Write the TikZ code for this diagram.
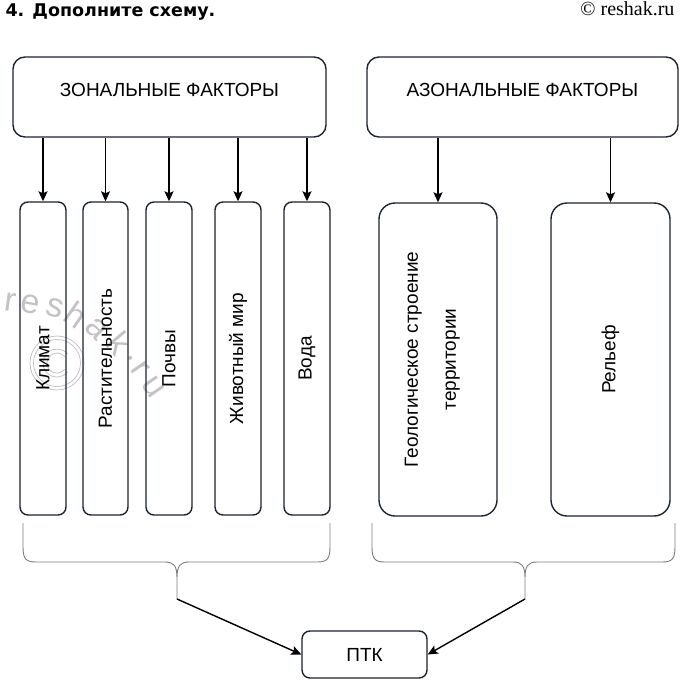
\documentclass[tikz,border=0pt]{standalone}
\usepackage{fontspec}
\setmainfont{Liberation Sans}
\newfontfamily\titlefont{DejaVu Sans}
\newfontfamily\copyfont{Liberation Serif}
\usepackage{tikz}
\usetikzlibrary{arrows.meta,positioning,calc}
\definecolor{boxline}{RGB}{28,36,44}
\definecolor{braceline}{RGB}{125,125,125}
\definecolor{wmgray}{RGB}{195,195,195}

\tikzset{
  factbox/.style={draw=boxline,line width=1.4pt,inner sep=0pt,rounded corners=12pt,
    minimum width=313pt,minimum height=80pt,text depth=14pt},
  tallbox/.style={draw=boxline,line width=1.4pt,inner sep=0pt,rounded corners=8pt,
    minimum height=313pt},
  flow/.style={->,line width=1.4pt,black}
}

\begin{document}
\begin{tikzpicture}[x=1pt,y=-1pt,font=\fontsize{19}{24}\selectfont,
  >={Stealth[length=10pt,width=9pt,inset=2pt]}]
\useasboundingbox (0,0) rectangle (681,683);

% watermark (behind)
\draw[wmgray,line width=0.8pt] (57,363) circle[radius=27pt] (57,363) circle[radius=23.5pt];
\draw[wmgray,line width=0.8pt] (57,363) ++(40:14pt) arc[start angle=40,end angle=320,radius=14pt];
\draw[wmgray,line width=0.8pt] (57,363) ++(40:10pt) arc[start angle=40,end angle=320,radius=10pt];
\foreach \ch/\px/\py/\ang [count=\i] in {r/10/302/-8, e/30/304/-10, s/55/308/-15, h/76/315/-35,
    a/97/329/-45, k/119/343/-50, ./131/358/-55, r/140/369/-55, u/153/387/-55}
  \node[wmgray,font=\fontsize{34}{34}\selectfont,rotate=\ang] (wm\i) at (\px,\py) {\ch};

\node[anchor=base west,font=\titlefont\bfseries\fontsize{17.5}{20}\selectfont] (title) at (2,16) {4. Дополните схему.};
\node[anchor=base east,font=\copyfont\fontsize{20}{22}\selectfont] (copy) at (678,15) {© reshak.ru};

% top level
\node[factbox] (zon) at (169.5,97) {ЗОНАЛЬНЫЕ ФАКТОРЫ};
\node[factbox,minimum width=311pt] (azon) at (522.5,97) {АЗОНАЛЬНЫЕ ФАКТОРЫ};

% zonal factors
\foreach \nm/\cx/\w/\txt in {klim/43/46/Климат, rast/105.5/45/Растительность, poch/169/46/Почвы,
    zhiv/238/46/{Животный мир}, voda/307/46/Вода}{
  \node[tallbox,minimum width=\w pt] (\nm) at (\cx,358.5) {\rotatebox{90}{\txt}};
  \draw[flow] (\nm.north |- zon.south) -- (\nm.north);
}

% azonal factors
\node[tallbox,minimum width=118pt,rounded corners=16pt] (geol) at (438,359.5)
  {\rotatebox{90}{\raisebox{0pt}[\height][\dimexpr\depth+12pt\relax]{%
    \begin{tabular}{@{}c@{}}Геологическое строение\\[14pt]территории\end{tabular}}}};
\node[tallbox,minimum width=119pt,rounded corners=16pt] (rel) at (610.5,359.5) {\rotatebox{90}{Рельеф}};
\draw[flow] (geol.north |- azon.south) -- (geol.north);
\draw[flow] (rel.north |- azon.south) -- (rel.north);

% braces
\foreach \xa/\xb/\xt in {23/330/177, 372/675/525}{
  \draw[braceline,line width=0.9pt] (\xa,523) -- (\xa,547) .. controls (\xa,559) and (\xa+3,562) .. (\xa+13,562)
    -- (\xt-12,562) .. controls (\xt-3,562) and (\xt,566) .. (\xt,578) -- (\xt,599)
    (\xt,578) .. controls (\xt,566) and (\xt+3,562) .. (\xt+12,562)
    -- (\xb-13,562) .. controls (\xb-3,562) and (\xb,559) .. (\xb,547) -- (\xb,523);
}
\coordinate (ltip) at (177,599);
\coordinate (rtip) at (525,599);

\node[draw=boxline,line width=1.4pt,inner sep=0pt,rounded corners=8pt,minimum width=125pt,
  minimum height=47pt] (ptk) at (364.5,654.5) {ПТК};
\draw[flow] (ltip) -- (ptk.west);
\draw[flow] (rtip) -- (ptk.east);
\end{tikzpicture}
\end{document}
